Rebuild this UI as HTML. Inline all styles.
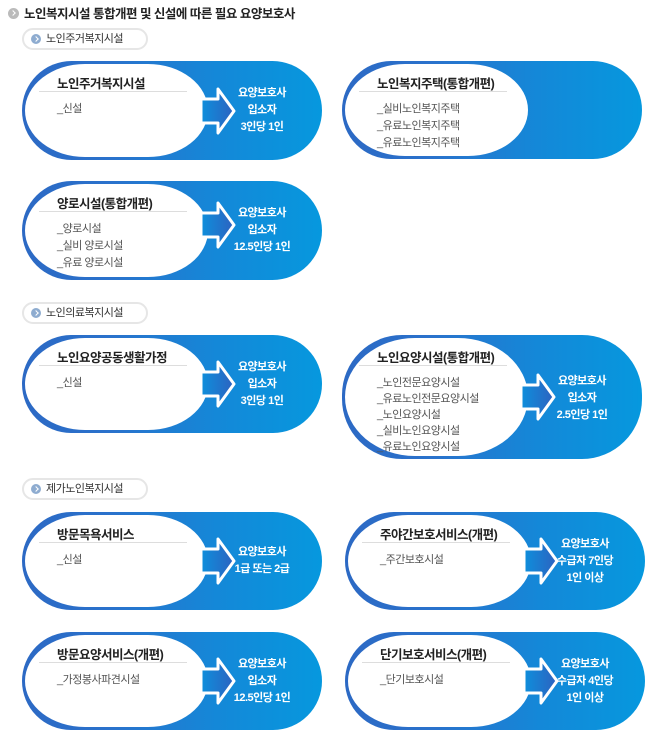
<!DOCTYPE html>
<html><head><meta charset="utf-8"><style>
*{margin:0;padding:0;box-sizing:border-box}
body{width:650px;height:735px;background:#fff;position:relative;overflow:hidden;font-family:"Liberation Sans","Noto Sans CJK KR","NanumGothic",sans-serif}
.h{position:absolute;left:8px;top:3px;font-size:12.5px;font-weight:bold;color:#222;letter-spacing:-0.5px}
.h i{display:inline-block;width:11px;height:11px;border-radius:50%;background:#bbb;vertical-align:-1px;margin-right:5px;position:relative}
.tag{position:absolute;left:22px;width:126px;height:22px;border:2px solid #e6e6e6;border-radius:11px;background:#fff;font-size:11px;color:#333;padding-left:22px;line-height:18px;letter-spacing:-0.5px}
.tag i{position:absolute;left:7px;top:4px;width:10px;height:10px;border-radius:50%;background:#8eacd0}
.tag i:after,.h i:after{content:"";position:absolute;left:3px;top:3px;width:3px;height:3px;border-top:1.3px solid #fff;border-right:1.3px solid #fff;transform:rotate(45deg)}
.c{position:absolute;width:300px;border-radius:60px;background:linear-gradient(90deg,#2c69c4 0%,#2a72cc 30%,#1488d8 65%,#0698de 100%)}
.in{position:absolute;left:3px;top:3px;bottom:3px;width:183px;background:#fff;border-radius:50%/50%}
.t{position:absolute;left:35px;top:12px;font-size:12.5px;font-weight:bold;color:#222;letter-spacing:-0.5px}
.ln{position:absolute;left:17px;width:148px;top:30px;height:1px;background:#ddd}
.it{position:absolute;left:35px;top:40px;font-size:11px;color:#555;line-height:17px;letter-spacing:-0.5px}
.rt{position:absolute;left:200px;width:80px;text-align:center;color:#fff;font-size:11px;font-weight:bold;line-height:17px;letter-spacing:-0.5px}
svg{position:absolute}
</style></head><body>
<div class="h"><i></i>노인복지시설 통합개편 및 신설에 따른 필요 요양보호사</div>

<div class="tag" style="top:28px"><i></i>노인주거복지시설</div>
<div class="tag" style="top:302px"><i></i>노인의료복지시설</div>
<div class="tag" style="top:478px"><i></i>제가노인복지시설</div>

<svg width="0" height="0"><defs><linearGradient id="ag" x1="0" x2="1"><stop offset="0" stop-color="#0e8fdc"/><stop offset="1" stop-color="#2d62c0"/></linearGradient></defs></svg>

<div class="c" style="left:22px;top:61px;height:99px"><div class="in" style="border-radius:60px/50%"></div>
<div class="t">노인주거복지시설</div><div class="ln"></div><div class="it">_신설</div>
<svg style="left:177px;top:26px" width="38" height="48"><path d="M2 12H19V2L35 24L19 46V36H2Z" fill="url(#ag)" stroke="#fff" stroke-width="3" stroke-linejoin="round"/></svg>
<div class="rt" style="top:24px">요양보호사<br>입소자<br>3인당 1인</div></div>

<div class="c" style="left:342px;top:61px;height:98px"><div class="in" style="border-radius:60px/50%"></div>
<div class="t">노인복지주택(통합개편)</div><div class="ln"></div><div class="it">_실비노인복지주택<br>_유료노인복지주택<br>_유료노인복지주택</div></div>

<div class="c" style="left:22px;top:181px;height:99px"><div class="in" style="border-radius:60px/50%"></div>
<div class="t">양로시설(통합개편)</div><div class="ln"></div><div class="it">_양로시설<br>_실비 양로시설<br>_유료 양로시설</div>
<svg style="left:177px;top:20px" width="38" height="48"><path d="M2 12H19V2L35 24L19 46V36H2Z" fill="url(#ag)" stroke="#fff" stroke-width="3" stroke-linejoin="round"/></svg>
<div class="rt" style="top:24px">요양보호사<br>입소자<br>12.5인당 1인</div></div>

<div class="c" style="left:22px;top:335px;height:98px"><div class="in" style="border-radius:60px/50%"></div>
<div class="t">노인요양공동생활가정</div><div class="ln"></div><div class="it">_신설</div>
<svg style="left:177px;top:25px" width="38" height="48"><path d="M2 12H19V2L35 24L19 46V36H2Z" fill="url(#ag)" stroke="#fff" stroke-width="3" stroke-linejoin="round"/></svg>
<div class="rt" style="top:24px">요양보호사<br>입소자<br>3인당 1인</div></div>

<div class="c" style="left:342px;top:335px;height:124px"><div class="in" style="border-radius:70px/50%"></div>
<div class="t">노인요양시설(통합개편)</div><div class="ln"></div><div class="it" style="line-height:16px">_노인전문요양시설<br>_유료노인전문요양시설<br>_노인요양시설<br>_실비노인요양시설<br>_유료노인요양시설</div>
<svg style="left:177px;top:38px" width="38" height="48"><path d="M2 12H19V2L35 24L19 46V36H2Z" fill="url(#ag)" stroke="#fff" stroke-width="3" stroke-linejoin="round"/></svg>
<div class="rt" style="top:38px">요양보호사<br>입소자<br>2.5인당 1인</div></div>

<div class="c" style="left:22px;top:512px;height:98px"><div class="in" style="border-radius:60px/50%"></div>
<div class="t">방문목욕서비스</div><div class="ln"></div><div class="it">_신설</div>
<svg style="left:177px;top:25px" width="38" height="48"><path d="M2 12H19V2L35 24L19 46V36H2Z" fill="url(#ag)" stroke="#fff" stroke-width="3" stroke-linejoin="round"/></svg>
<div class="rt" style="top:32px">요양보호사<br>1급 또는 2급</div></div>

<div class="c" style="left:345px;top:512px;height:98px"><div class="in" style="border-radius:60px/50%"></div>
<div class="t">주야간보호서비스(개편)</div><div class="ln"></div><div class="it">_주간보호시설</div>
<svg style="left:177px;top:25px" width="38" height="48"><path d="M2 12H19V2L35 24L19 46V36H2Z" fill="url(#ag)" stroke="#fff" stroke-width="3" stroke-linejoin="round"/></svg>
<div class="rt" style="top:24px">요양보호사<br>수급자 7인당<br>1인 이상</div></div>

<div class="c" style="left:22px;top:632px;height:98px"><div class="in" style="border-radius:60px/50%"></div>
<div class="t">방문요양서비스(개편)</div><div class="ln"></div><div class="it">_가정봉사파견시설</div>
<svg style="left:177px;top:25px" width="38" height="48"><path d="M2 12H19V2L35 24L19 46V36H2Z" fill="url(#ag)" stroke="#fff" stroke-width="3" stroke-linejoin="round"/></svg>
<div class="rt" style="top:24px">요양보호사<br>입소자<br>12.5인당 1인</div></div>

<div class="c" style="left:345px;top:632px;height:98px"><div class="in" style="border-radius:60px/50%"></div>
<div class="t">단기보호서비스(개편)</div><div class="ln"></div><div class="it">_단기보호시설</div>
<svg style="left:177px;top:25px" width="38" height="48"><path d="M2 12H19V2L35 24L19 46V36H2Z" fill="url(#ag)" stroke="#fff" stroke-width="3" stroke-linejoin="round"/></svg>
<div class="rt" style="top:24px">요양보호사<br>수급자 4인당<br>1인 이상</div></div>
</body></html>
